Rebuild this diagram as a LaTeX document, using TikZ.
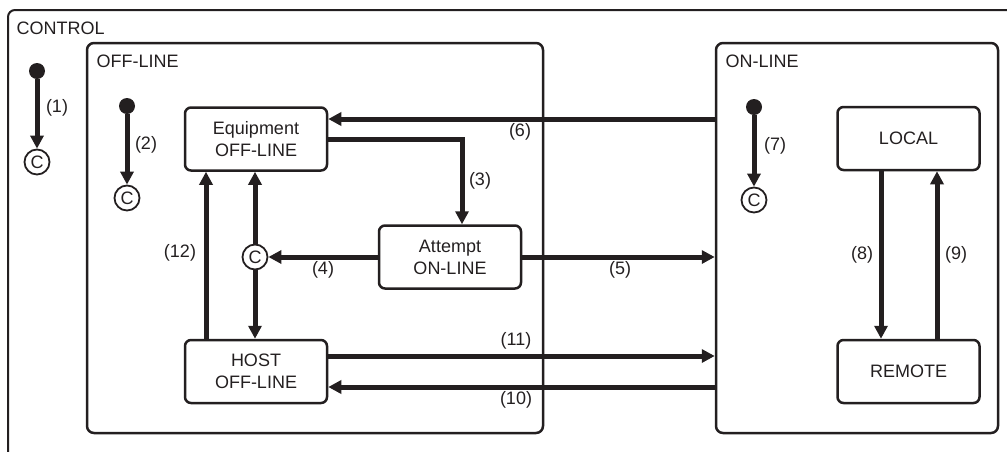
\documentclass[tikz,border=0pt]{standalone}
\usepackage{fontspec}
\setmainfont{Liberation Sans}
\usetikzlibrary{arrows.meta}
\definecolor{inchiostro}{RGB}{35,31,32}

\begin{document}
\begin{tikzpicture}[x=1pt, y=-1pt, font=\fontsize{18}{22}\selectfont, color=inchiostro]

        % Stili globali
        \tikzstyle{stato}=[draw, line width=2.5pt, rounded corners=6pt, minimum width=142pt, minimum height=63pt, align=center, inner sep=0pt]
        \tikzstyle{pannello}=[draw, line width=2.5pt, rounded corners=7pt, inner sep=0pt]
        \tikzstyle{iniziale}=[circle, fill, minimum size=16pt, inner sep=0pt]
        \tikzstyle{cond}=[circle, draw, line width=1.8pt, minimum size=25pt, inner sep=0pt]
        \tikzstyle{freccia}=[line width=5pt, -{Triangle[length=13pt, width=13pt]}]

        % Area della pagina
        \useasboundingbox (0,0) rectangle (1007,451);

        % Riquadro esterno CONTROL (tagliato a destra e in basso)
        \draw[line width=2pt, rounded corners=7pt] (8,470) -- (8,10) -- (1030,10);
        \node[anchor=west] (tcontrol) at (13,28) {CONTROL};

        % Pannelli OFF-LINE e ON-LINE
        \node[pannello, minimum width=456pt, minimum height=390pt] (offline) at (315,238) {};
        \node[pannello, minimum width=282pt, minimum height=390pt] (online) at (857,238) {};
        \node[anchor=west] (toffline) at (93,61) {OFF-LINE};
        \node[anchor=west] (tonline) at (722,61) {ON-LINE};

        % Stati
        \node[stato] (equip) at (256,139) {Equipment\\OFF-LINE};
        \node[stato] (attempt) at (450,257) {Attempt\\ON-LINE};
        \node[stato] (host) at (256,371.5) {HOST\\OFF-LINE};
        \node[stato] (local) at (908.5,138.5) {LOCAL};
        \node[stato] (remote) at (908.5,371.5) {REMOTE};

        % Pseudo-stati iniziali e condizionali
        \node[iniziale] (i1) at (37,71) {};
        \node[cond] (c1) at (37,162) {C};
        \node[iniziale] (i2) at (127,106) {};
        \node[cond] (c2) at (127,198) {C};
        \node[iniziale] (i7) at (754,107) {};
        \node[cond] (c7) at (754,200) {C};
        \node[cond] (cmid) at (255,257) {C};

        % Punti ausiliari
        \coordinate (p6) at ([yshift=20pt]equip.east);
        \coordinate (p11) at ([yshift=15.5pt]host.east);
        \coordinate (p10) at ([yshift=-15.5pt]host.east);

        % Transizioni
        \draw[freccia] (i1) -- (c1);
        \draw[freccia] (i2) -- (c2);
        \draw[freccia] (i7) -- (c7);
        \draw[freccia] (equip.east) -| ([xshift=12pt]attempt.north);
        \draw[freccia] (attempt.west) -- (cmid.east);
        \draw[freccia] (attempt.east) -- (attempt.east -| online.west);
        \draw[freccia] (p6 -| online.west) -- (p6);
        \draw[freccia] ([xshift=-27.5pt]local.south) -- ([xshift=-27.5pt]remote.north);
        \draw[freccia] ([xshift=28.5pt]remote.north) -- ([xshift=28.5pt]local.south);
        \draw[freccia] (p10 -| online.west) -- (p10);
        \draw[freccia] (p11) -- (p11 -| online.west);
        \draw[freccia] ([xshift=-50pt]host.north) -- ([xshift=-50pt]equip.south);
        \draw[freccia] (cmid.north) -- (cmid.north |- equip.south);
        \draw[freccia] (cmid.south) -- (cmid.south |- host.north);

        % Etichette delle transizioni
        \node (l1) at (57,108) {(1)};
        \node (l2) at (146,145) {(2)};
        \node (l3) at (480,181) {(3)};
        \node (l4) at (323,270) {(4)};
        \node (l5) at (620,270) {(5)};
        \node (l6) at (520,132) {(6)};
        \node (l7) at (775,146) {(7)};
        \node (l8) at (862,255) {(8)};
        \node (l9) at (956,255) {(9)};
        \node (l10) at (516,400) {(10)};
        \node (l11) at (516,341) {(11)};
        \node (l12) at (180,253) {(12)};

    \end{tikzpicture}
\end{document}
